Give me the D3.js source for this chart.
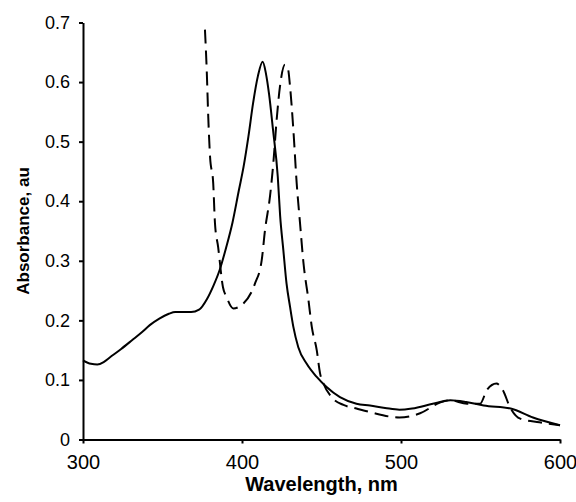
<!DOCTYPE html>
<html>
<head>
<meta charset="utf-8">
<script src="https://cdn.jsdelivr.net/npm/d3@7"></script>
<style>
  body { margin: 0; background: #fff; }
</style>
</head>
<body>
<div id="chart"></div>
<script>
// Spectrum values (wavelength in nm, absorbance in au).
const solidWavelength = [300, 305, 309, 313, 317, 324, 331, 337, 342, 348, 354, 358, 363, 368, 373, 378, 382, 386, 390, 394, 398, 401, 404, 407, 410, 413, 415, 417, 419.5, 422.5, 424, 426, 428, 430.2, 432.3, 435.4, 440.7, 447, 453.2, 461.6, 472, 480.5, 490, 499, 507, 520, 531, 541, 552, 569, 583, 600];
const solidAbsorbance = [0.133, 0.127, 0.126, 0.130, 0.138, 0.152, 0.167, 0.180, 0.192, 0.203, 0.211, 0.214, 0.214, 0.214, 0.218, 0.236, 0.258, 0.285, 0.322, 0.364, 0.418, 0.458, 0.508, 0.565, 0.610, 0.634, 0.615, 0.580, 0.520, 0.441, 0.375, 0.318, 0.262, 0.223, 0.189, 0.155, 0.127, 0.105, 0.088, 0.071, 0.060, 0.057, 0.053, 0.050, 0.052, 0.060, 0.066, 0.063, 0.057, 0.052, 0.037, 0.024];

const dashedWavelength = [376.7, 377.8, 378.8, 379.9, 381.9, 383, 385, 388, 390.3, 394.5, 400.8, 408.2, 412.4, 414.5, 417.6, 419.7, 421.8, 423.9, 427, 429, 430.2, 432.3, 434.4, 436.5, 438.6, 441.8, 443.9, 447, 449.1, 451.2, 456.4, 463.8, 472, 480.5, 499, 512, 524.5, 531, 541.5, 549.7, 554, 560, 564, 568.6, 575, 587, 600];
const dashedAbsorbance = [0.688, 0.621, 0.540, 0.475, 0.430, 0.363, 0.323, 0.256, 0.239, 0.220, 0.228, 0.262, 0.301, 0.352, 0.408, 0.464, 0.537, 0.593, 0.629, 0.621, 0.593, 0.520, 0.430, 0.363, 0.298, 0.234, 0.189, 0.150, 0.111, 0.094, 0.071, 0.058, 0.052, 0.046, 0.037, 0.044, 0.062, 0.066, 0.060, 0.060, 0.083, 0.094, 0.083, 0.054, 0.035, 0.029, 0.024];

const xTicks = [300, 400, 500, 600];
const yTicks = [0, 0.1, 0.2, 0.3, 0.4, 0.5, 0.6, 0.7];

const width = 576;
const height = 502;

// Create the SVG container.
const svg = d3.select("#chart")
  .append("svg")
  .attr("width", width)
  .attr("height", height)
  .style("font-family", "'Liberation Sans', Arial, sans-serif");

// Scales.
const x = d3.scaleLinear().domain([300, 600]).range([83, 560]);
const y = d3.scaleLinear().domain([0, 0.7]).range([439.5, 22.5]);

// Curves.
const line = d3.line()
  .x((d) => x(d[0]))
  .y((d) => y(d[1]))
  .curve(d3.curveMonotoneX);

const solid = solidWavelength.map((w, i) => [w, solidAbsorbance[i]]);
const dashed = dashedWavelength.map((w, i) => [w, dashedAbsorbance[i]]);

svg.append("path")
  .datum(solid)
  .attr("fill", "none")
  .attr("stroke", "#000")
  .attr("stroke-width", 2)
  .attr("d", line);

svg.append("path")
  .datum(dashed)
  .attr("fill", "none")
  .attr("stroke", "#000")
  .attr("stroke-width", 2)
  .attr("stroke-dasharray", "14,7")
  .attr("d", line);

// Axes.
const xAxis = svg.append("g")
  .attr("transform", `translate(0,${y(0)})`)
  .call(d3.axisBottom(x).tickValues(xTicks).tickSize(4).tickSizeOuter(0).tickPadding(11));

const yAxis = svg.append("g")
  .attr("transform", `translate(${x(300)},0)`)
  .call(d3.axisLeft(y).tickValues(yTicks).tickSize(4).tickSizeOuter(0).tickPadding(9)
    .tickFormat((d) => (d === 0 ? "0" : d3.format(".1f")(d))));

[xAxis, yAxis].forEach((g) => {
  g.select(".domain").attr("stroke", "#000").attr("stroke-width", 2);
  g.selectAll(".tick line").attr("stroke", "#000").attr("stroke-width", 2);
  g.selectAll(".tick text").attr("fill", "#000").style("font-family", "'Liberation Sans', Arial, sans-serif");
});
xAxis.selectAll(".tick text").attr("font-size", 20);
yAxis.selectAll(".tick text").attr("font-size", 18);

// Axis titles.
svg.append("text")
  .attr("x", (x(300) + x(600)) / 2)
  .attr("y", 491)
  .attr("text-anchor", "middle")
  .attr("font-size", 20)
  .attr("font-weight", "bold")
  .text("Wavelength, nm");

svg.append("text")
  .attr("transform", `translate(29,${y(0.35)}) rotate(-90)`)
  .attr("text-anchor", "middle")
  .attr("font-size", 17)
  .attr("font-weight", "bold")
  .text("Absorbance, au");
</script>
</body>
</html>
